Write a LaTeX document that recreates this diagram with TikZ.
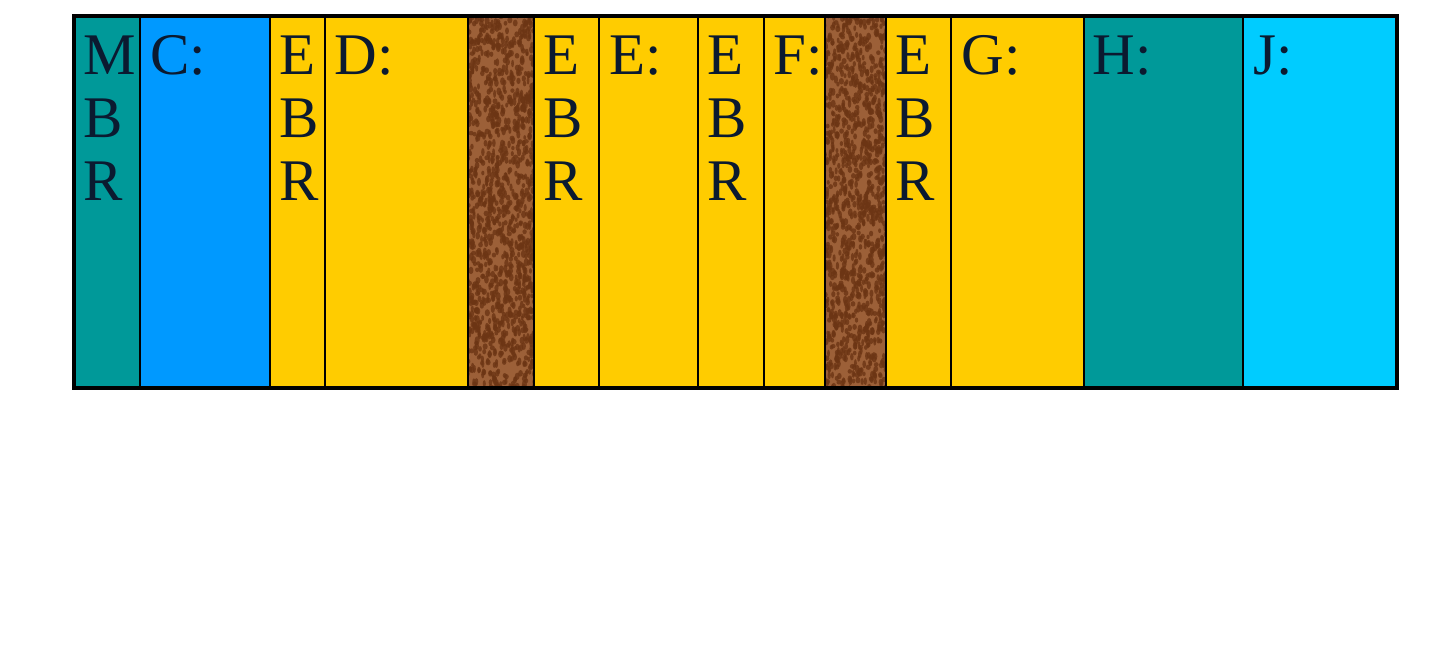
\documentclass[tikz,border=0pt]{standalone}
\usepackage{fontspec}
\setmainfont{Liberation Serif}
\definecolor{cteal}{HTML}{009999}
\definecolor{cblue}{HTML}{0099FF}
\definecolor{cyell}{HTML}{FFCC00}
\definecolor{ccyan}{HTML}{00CCFF}
\definecolor{cbrown}{HTML}{9C6038}
\definecolor{cbrowndk}{HTML}{6C3514}
\definecolor{ctext}{HTML}{0B1A30}
\begin{document}
\begin{tikzpicture}[x=0.5pt,y=-0.5pt,
  lbl/.style={anchor=base west,inner sep=0pt,text=ctext,font=\fontsize{29.5}{31.5}\selectfont},
  sep/.style={draw=black,line width=1pt},
  frame/.style={draw=black,line width=2pt},
  cell/.style={fill=cbrowndk,opacity=0.8}]
\useasboundingbox (0,0) rectangle (1444,660);
% columns
\fill[cteal] (74,16) rectangle (140,388);
\fill[cblue] (140,16) rectangle (270,388);
\fill[cyell] (270,16) rectangle (468,388);
\fill[cbrown] (468,16) rectangle (534,388);
\fill[cyell] (534,16) rectangle (825,388);
\fill[cbrown] (825,16) rectangle (886,388);
\fill[cyell] (886,16) rectangle (1084,388);
\fill[cteal] (1084,16) rectangle (1243,388);
\fill[ccyan] (1243,16) rectangle (1397,388);
% brown leather texture
\pgfmathsetseed{4711}
\begin{scope}
\clip (468,16) rectangle (534,388);
\foreach \i in {1,...,1300}{
  \pgfmathsetmacro\rx{465+72*rnd}
  \pgfmathsetmacro\ry{13+378*rnd}
  \pgfmathsetmacro\ra{1.4+1.2*rnd}
  \pgfmathsetmacro\rb{2.2+2.0*rnd}
  \fill[cell] (\rx,\ry) ellipse ({\ra} and {\rb});
}
\end{scope}
\begin{scope}
\clip (825,16) rectangle (886,388);
\foreach \i in {1,...,1200}{
  \pgfmathsetmacro\rx{822+67*rnd}
  \pgfmathsetmacro\ry{13+378*rnd}
  \pgfmathsetmacro\ra{1.4+1.2*rnd}
  \pgfmathsetmacro\rb{2.2+2.0*rnd}
  \fill[cell] (\rx,\ry) ellipse ({\ra} and {\rb});
}
\end{scope}
% separators
\foreach \x in {140,270,325,468,534,599,698,764,825,886,951,1084,1243}{
  \draw[sep] (\x,16) -- (\x,388);
}
\draw[frame] (74,16) rectangle (1397,388);
% labels
\node[lbl] (m1) at (83,74) {M};
\node[lbl] (m2) at (83,137) {B};
\node[lbl] (m3) at (83,200) {R};
\node[lbl] (c) at (150,74) {C:};
\node[lbl] (a1) at (279,74) {E};
\node[lbl] (a2) at (279,137) {B};
\node[lbl] (a3) at (279,200) {R};
\node[lbl] (d) at (334,74) {D:};
\node[lbl] (b1) at (543,74) {E};
\node[lbl] (b2) at (543,137) {B};
\node[lbl] (b3) at (543,200) {R};
\node[lbl] (e) at (609,74) {E:};
\node[lbl] (f1) at (707,74) {E};
\node[lbl] (f2) at (707,137) {B};
\node[lbl] (f3) at (707,200) {R};
\node[lbl] (f) at (773,74) {F:};
\node[lbl] (g1) at (895,74) {E};
\node[lbl] (g2) at (895,137) {B};
\node[lbl] (g3) at (895,200) {R};
\node[lbl] (g) at (961,74) {G:};
\node[lbl] (h) at (1092,74) {H:};
\node[lbl] (j) at (1253,74) {J:};
\end{tikzpicture}
\end{document}
